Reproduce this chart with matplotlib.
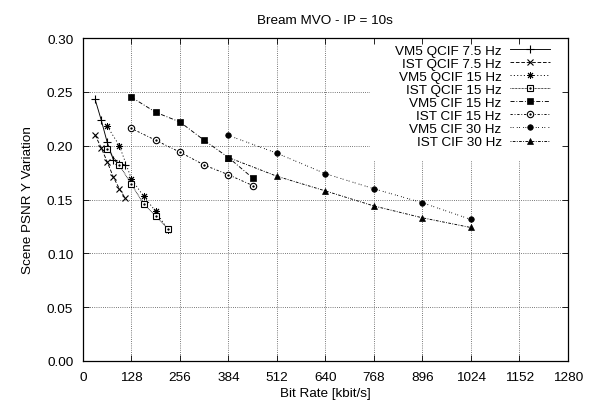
import matplotlib
matplotlib.use("Agg")
import matplotlib.pyplot as plt
from matplotlib.patches import Rectangle
from matplotlib.legend_handler import HandlerTuple

plt.rcParams['font.family'] = ['Liberation Sans', 'DejaVu Sans']
FS = 9.7

# ---- data ----
rate_qcif_75 = [32, 48, 64, 80, 96, 112]
rate_qcif_15 = [64, 96, 128, 160, 192, 224]
rate_cif_15 = [128, 192, 256, 320, 384, 448]
rate_cif_30 = [384, 512, 640, 768, 896, 1024]

vm5_qcif_75 = [0.243, 0.224, 0.203, 0.187, 0.183, 0.182]
ist_qcif_75 = [0.210, 0.198, 0.185, 0.171, 0.160, 0.151]
vm5_qcif_15 = [0.218, 0.200, 0.169, 0.153, 0.139, 0.122]
ist_qcif_15 = [0.197, 0.182, 0.164, 0.146, 0.1345, 0.123]
vm5_cif_15 = [0.245, 0.231, 0.222, 0.205, 0.189, 0.170]
ist_cif_15 = [0.216, 0.205, 0.194, 0.182, 0.173, 0.163]
vm5_cif_30 = [0.2095, 0.193, 0.174, 0.160, 0.147, 0.1315]
ist_cif_30 = [0.189, 0.1716, 0.158, 0.144, 0.133, 0.124]

labels = ["VM5 QCIF 7.5 Hz", "IST QCIF 7.5 Hz", "VM5 QCIF 15 Hz", "IST QCIF 15 Hz",
          "VM5 CIF 15 Hz", "IST CIF 15 Hz", "VM5 CIF 30 Hz", "IST CIF 30 Hz"]

x_ticks = list(range(0, 1281, 128))
y_ticks = [0.00, 0.05, 0.10, 0.15, 0.20, 0.25, 0.30]

fig = plt.figure(figsize=(5.91, 4.06), dpi=100)
ax = fig.add_axes([83/591, 1-362/406, (567.7-83)/591, (362-39)/406])
ax.set_xlim(0, 1280)
ax.set_ylim(0, 0.30)

# grid (dotted) drawn under a white key box
gkw = dict(color='0.3', lw=0.6, linestyle=(0, (1, 1.6)), zorder=0.5)
ax.vlines(x_ticks[1:-1], 0, 0.30, **gkw)
ax.hlines(y_ticks[1:-1], 0, 1280, **gkw)
ax.add_patch(Rectangle((0.592, 0.619), 0.408, 0.381, transform=ax.transAxes,
                       facecolor='white', edgecolor='none', zorder=1.0))

lw = 0.65
series = [
    (rate_qcif_75, vm5_qcif_75, '-', '+', dict(ms=5.5, mew=0.8), False),
    (rate_qcif_75, ist_qcif_75, (0, (4, 2)), 'x', dict(ms=4.5, mew=0.8), False),
    (rate_qcif_15, vm5_qcif_15, (0, (1.2, 2.5)), (8, 2, 0), dict(ms=5, mew=0.7), False),
    (rate_qcif_15, ist_qcif_15, (0, (0.8, 0.8)), 's', dict(ms=4.6, mew=0.8, mfc='white'), True),
    (rate_cif_15, vm5_cif_15, (0, (4.5, 2, 1, 2)), 's', dict(ms=4.8, mew=0.5), False),
    (rate_cif_15, ist_cif_15, (0, (2.5, 2, 1, 2)), 'o', dict(ms=4.6, mew=0.8, mfc='white'), True),
    (rate_cif_30, vm5_cif_30, (0, (1, 1.5, 1, 3.5)), 'o', dict(ms=4.0, mew=0.5), False),
    (rate_cif_30, ist_cif_30, (0, (1, 1.5, 3, 1.5)), '^', dict(ms=4.6, mew=0.5), False),
]

handles = []
for (xs, ys, ls, mk, mkw, dot), lab in zip(series, labels):
    ln, = ax.plot(xs, ys, color='black', lw=lw, linestyle=ls, marker=mk,
                  mec='black', mfc=mkw.pop('mfc', 'black'), zorder=2, **mkw)
    if dot:
        d, = ax.plot(xs, ys, linestyle='none', marker='o', ms=1.3, mfc='black',
                     mec='black', mew=0.3, zorder=3)
        handles.append((ln, d))
    else:
        handles.append(ln)

leg = ax.legend(handles, labels, loc='upper right', bbox_to_anchor=(0.9635, 0.981),
                frameon=False, fontsize=FS, markerfirst=False, borderpad=0,
                borderaxespad=0, handlelength=3.0, handletextpad=0.6,
                labelspacing=0.05, handler_map={tuple: HandlerTuple(ndivide=1, pad=0)})
leg.set_zorder(5)

ax.set_xticks(x_ticks)
ax.set_yticks(y_ticks)
ax.set_yticklabels([f"{v:.2f}" for v in y_ticks])
ax.tick_params(direction='in', top=True, right=True, length=4.5, width=0.6,
               labelsize=FS, pad=7, colors='black')
for sp in ax.spines.values():
    sp.set_linewidth(0.9)

ax.set_xlabel("Bit Rate [kbit/s]", fontsize=FS, labelpad=3)
ax.set_ylabel("Scene PSNR Y Variation", fontsize=FS, labelpad=9)
ax.set_title("Bream MVO - IP = 10s", fontsize=FS, pad=11)

fig.savefig("out.png", dpi=100)
